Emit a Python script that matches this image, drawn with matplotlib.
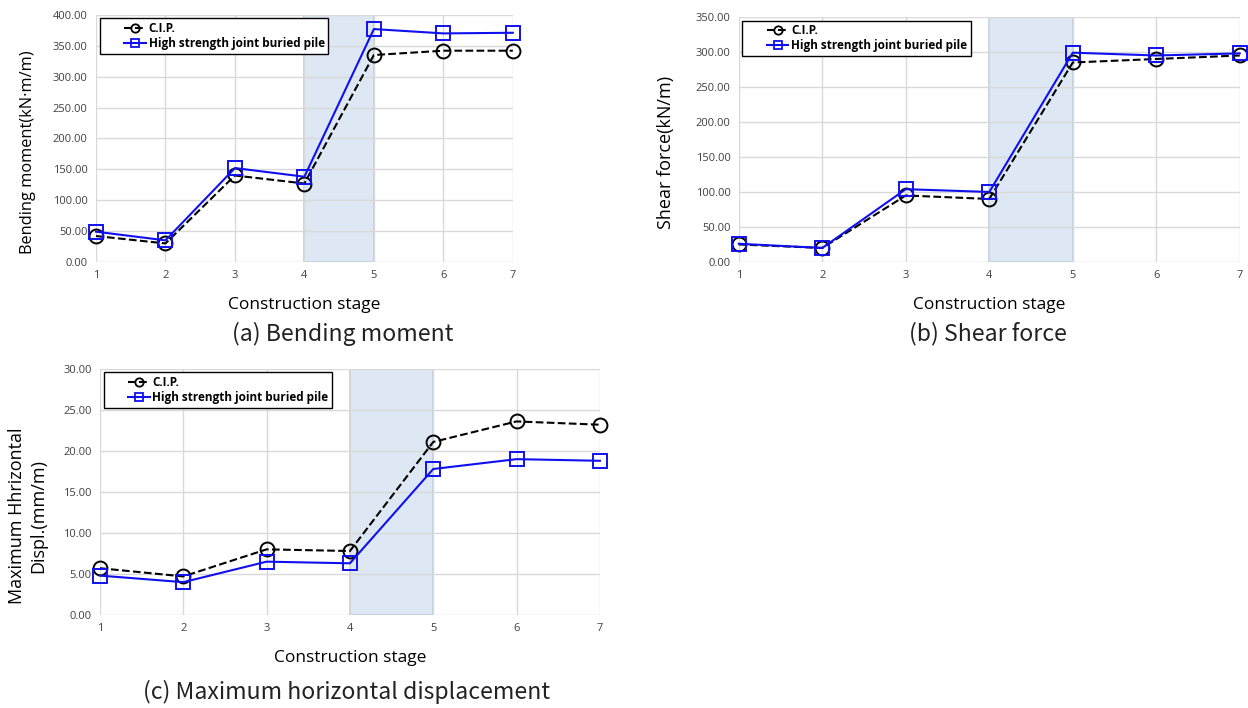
import numpy as np
import matplotlib.pyplot as plt
from matplotlib.lines import Line2D
from matplotlib.legend_handler import HandlerTuple

stages = [1, 2, 3, 4, 5, 6, 7]

# (a) bending moment
bm_cip = [42, 30, 140, 127, 335, 342, 342]
bm_hs = [49, 35, 152, 138, 377, 370, 371]

# (b) shear force
sf_cip = [25, 20, 95, 90, 285, 290, 295]
sf_hs = [26, 20, 104, 100, 299, 295, 298]

# (c) max horizontal displacement
hd_cip = [5.7, 4.7, 8.0, 7.8, 21.1, 23.6, 23.2]
hd_hs = [4.8, 4.0, 6.5, 6.3, 17.8, 19.0, 18.8]

names = ['C.I.P.', 'High strength joint buried pile']

plt.rcParams['font.family'] = ['Open Sans', 'DejaVu Sans']

fig = plt.figure(figsize=(12.48, 7.08), dpi=100)


def panel(rect, cip, hs, ymax, ystep, ylabel, ylabel_size, label_xy):
    ax = fig.add_axes(rect)
    ax.axvspan(4, 5, facecolor='#dde8f4', edgecolor='#b9cde3', lw=1.2, zorder=0)
    ax.plot(stages, cip, color='black', ls='--', lw=1.5, marker='o', ms=10,
            mfc='none', mec='black', mew=1.4, clip_on=False, zorder=3)
    ax.plot(stages, hs, color='#1010ee', ls='-', lw=1.5, marker='s', ms=10,
            mfc='none', mec='#1010ee', mew=1.4, clip_on=False, zorder=4)
    ax.set_xlim(1, 7)
    ax.set_ylim(0, ymax)
    ax.set_xticks(stages)
    ax.set_yticks(np.arange(0, ymax + ystep / 2, ystep))
    ax.yaxis.set_major_formatter(plt.FormatStrFormatter('%.2f'))
    ax.grid(True, color='#d9d9d9', lw=1)
    ax.set_axisbelow(True)
    for s in ax.spines.values():
        s.set_visible(False)
    ax.tick_params(length=0, labelsize=8, colors='#404040', pad=6)
    ax.set_xlabel('Construction stage', fontsize=12.5, labelpad=11)
    ax.set_ylabel(ylabel, fontsize=ylabel_size)
    ax.yaxis.set_label_coords(*label_xy)

    # blank spacer in front of each legend handle, like the original
    blank = Line2D([], [], ls='none')
    h1 = Line2D([], [], color='black', ls='--', lw=1.5, marker='o', ms=6,
                mfc='none', mec='black', mew=1.3)
    h2 = Line2D([], [], color='#1010ee', ls='-', lw=1.5, marker='s', ms=6,
                mfc='none', mec='#1010ee', mew=1.3)
    leg = ax.legend([(blank, h1), (blank, h2)], names,
                    handler_map={tuple: HandlerTuple(ndivide=None, pad=0)},
                    loc='upper left', bbox_to_anchor=(0.0, 1.0), fancybox=False,
                    edgecolor='black', framealpha=1, borderaxespad=0.3,
                    prop={'weight': 'bold', 'size': 8.5}, handlelength=3.6,
                    handletextpad=0.25, borderpad=0.3, labelspacing=0.2)
    leg.get_frame().set_linewidth(1)
    leg.set_zorder(10)
    return ax


panel([0.0769, 0.630, 0.334, 0.349], bm_cip, bm_hs, 400, 50,
      'Bending moment(kN·m/m)', 11.8, (-0.144, 0.445))
panel([0.592, 0.630, 0.4014, 0.346], sf_cip, sf_hs, 350, 50,
      'Shear force(kN/m)', 13, (-0.128, 0.449))
panel([0.0801, 0.1314, 0.4006, 0.3475], hd_cip, hd_hs, 30, 5,
      'Maximum Hhrizontal\nDispl.(mm/m)', 13, (-0.106, 0.402))

cap = dict(fontsize=16.6, ha='center', va='center', family=['Noto Sans CJK KR', 'DejaVu Sans'],
           weight='light', color='#222222')
fig.text(343 / 1248, 1 - 334 / 708, '(a) Bending moment', **cap)
fig.text(988 / 1248, 1 - 334 / 708, '(b) Shear force', **cap)
fig.text(347 / 1248, 1 - 692 / 708, '(c) Maximum horizontal displacement', **cap)

fig.savefig('out.png', dpi=100)
